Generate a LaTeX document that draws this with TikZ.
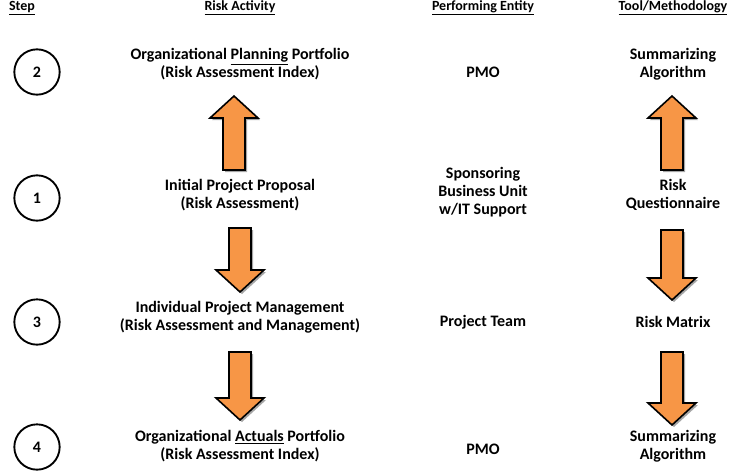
\documentclass[tikz,border=0pt]{standalone}
\usepackage{fontspec}
\setmainfont{Carlito}
\usetikzlibrary{positioning}
\definecolor{arroworange}{RGB}{247,150,70}
\tikzset{
  stepcircle/.style={circle,draw=black,line width=1.4pt,minimum size=34pt,inner sep=0pt,font=\bfseries\large},
  header/.style={font=\bfseries\fontsize{10.5}{12}\selectfont},
  rowtext/.style={font=\bfseries\fontsize{12}{13.5}\selectfont,align=center},
  blockarr/.style={draw=black,fill=arroworange,line width=1.2pt,line join=miter}
}
% block arrow: x, tail y, tip y (y grows downward)
\newcommand{\blockarrow}[3]{%
  \pgfmathsetmacro{\hb}{#3+(#2>#3 ? 22 : -22)}
  \fill[gray!70] ({#1-11+2},{#2+2}) -- ({#1-11+2},{\hb+2}) -- ({#1-24+2},{\hb+2}) -- ({#1+2},{#3+2}) -- ({#1+24+2},{\hb+2}) -- ({#1+11+2},{\hb+2}) -- ({#1+11+2},{#2+2}) -- cycle;
  \draw[blockarr] ({#1-11},#2) -- ({#1-11},\hb) -- ({#1-24},\hb) -- (#1,#3) -- ({#1+24},\hb) -- ({#1+11},\hb) -- ({#1+11},#2) -- cycle;
}
\begin{document}
\begin{tikzpicture}[x=0.75pt,y=-0.75pt]
\useasboundingbox (0,0) rectangle (750,475);
% headers
\node[header] (hstep) at (22,8) {\underline{Step}};
\node[header] (hrisk) at (240,8) {\underline{Risk Activity}};
\node[header] (hent) at (483,8) {\underline{Performing Entity}};
\node[header] (htool) at (673,8) {\underline{Tool/Methodology}};
% steps
\node[stepcircle] (s2) at (37,72) {2};
\node[stepcircle] (s1) at (37,198) {1};
\node[stepcircle] (s3) at (37,322) {3};
\node[stepcircle] (s4) at (37,447) {4};
% activities
\node[rowtext] (a2) at (240,64) {Organizational \underline{Planning} Portfolio\\(Risk Assessment Index)};
\node[rowtext] (a1) at (240,195) {Initial Project Proposal\\(Risk Assessment)};
\node[rowtext] (a3) at (240,317) {Individual Project Management\\(Risk Assessment and Management)};
\node[rowtext] (a4) at (240,446) {Organizational \underline{Actuals} Portfolio\\(Risk Assessment Index)};
% entities
\node[rowtext] (e2) at (483,72) {PMO};
\node[rowtext] (e1) at (483,192) {Sponsoring\\Business Unit\\w/IT Support};
\node[rowtext] (e3) at (483,322) {Project Team};
\node[rowtext] (e4) at (483,449) {PMO};
% tools
\node[rowtext] (t2) at (673,64) {Summarizing\\Algorithm};
\node[rowtext] (t1) at (673,195) {Risk\\Questionnaire};
\node[rowtext] (t3) at (673,322) {Risk Matrix};
\node[rowtext] (t4) at (673,446) {Summarizing\\Algorithm};
% arrows
\blockarrow{234}{170}{96}
\blockarrow{240}{228}{292}
\blockarrow{240}{352}{420}
\blockarrow{672}{170}{96}
\blockarrow{672}{230}{300}
\blockarrow{672}{352}{425}
\end{tikzpicture}
\end{document}
